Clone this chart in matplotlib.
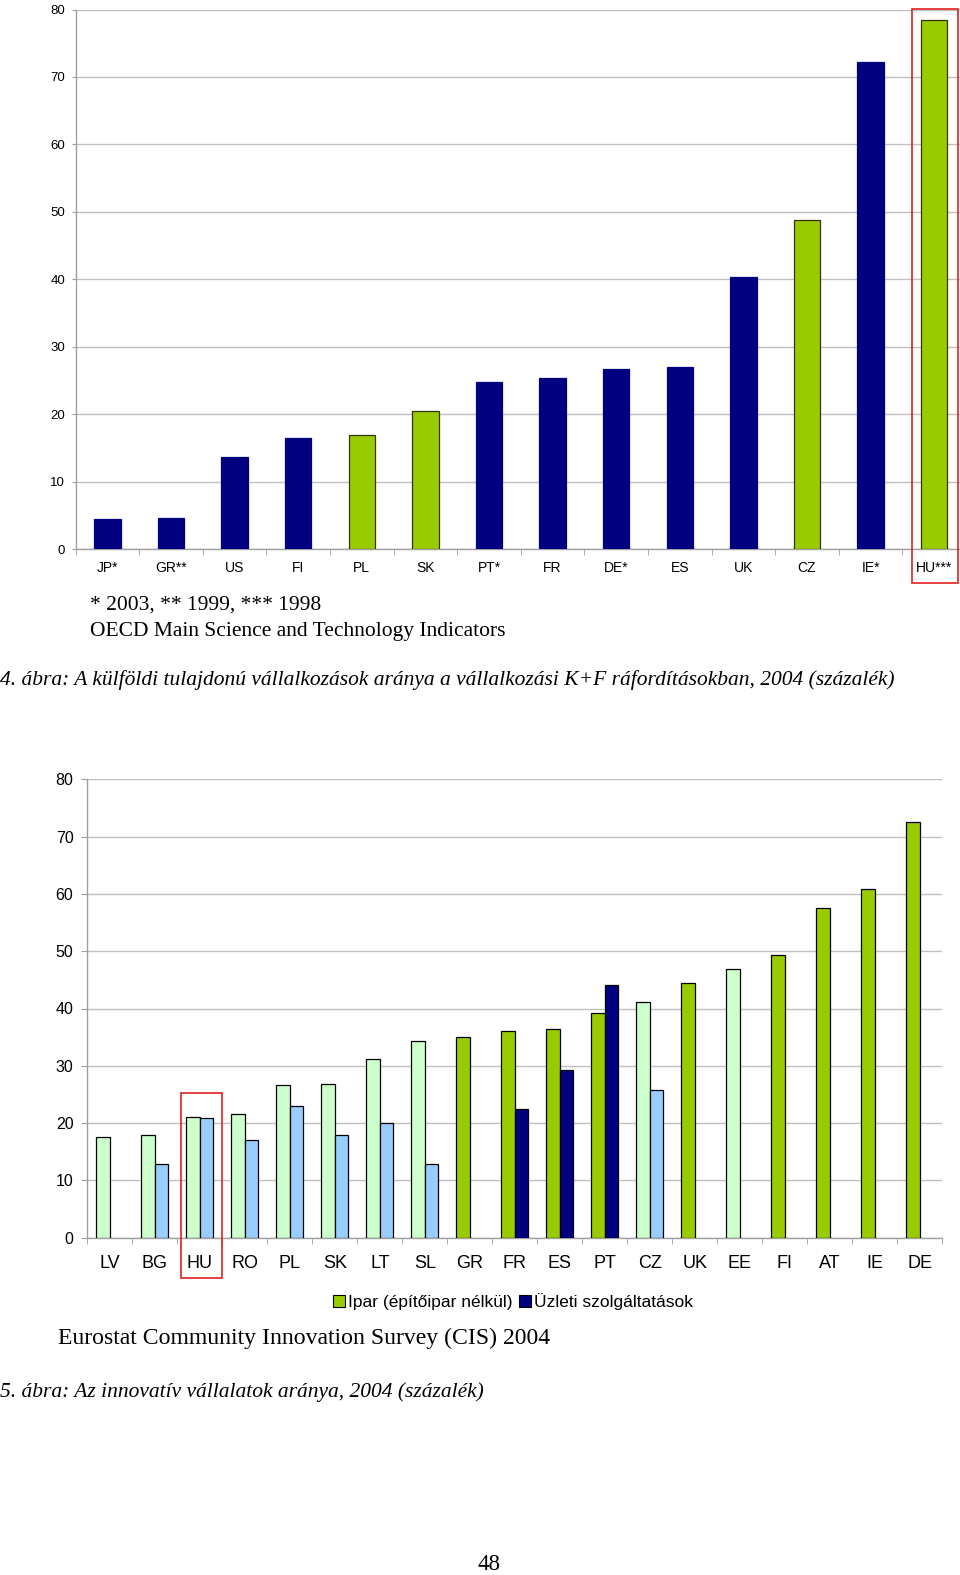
import numpy as np
import matplotlib
matplotlib.use("Agg")
import matplotlib.pyplot as plt
from matplotlib.patches import Rectangle, Patch

# ---------------- data ----------------
cats_top = ["JP*", "GR**", "US", "FI", "PL", "SK", "PT*", "FR", "DE*", "ES", "UK", "CZ", "IE*", "HU***"]
vals_top = [4.4, 4.6, 13.7, 16.5, 16.9, 20.5, 24.7, 25.4, 26.7, 27.0, 40.4, 48.8, 72.2, 78.5]
new_top = [0, 0, 0, 0, 1, 1, 0, 0, 0, 0, 0, 1, 0, 1]

cats_bot = ["LV", "BG", "HU", "RO", "PL", "SK", "LT", "SL", "GR", "FR", "ES", "PT", "CZ", "UK", "EE", "FI", "AT", "IE", "DE"]
ipar = [17.5, 18.0, 21.1, 21.6, 26.6, 26.9, 31.1, 34.3, 35.1, 36.1, 36.5, 39.2, 41.1, 44.4, 46.9, 49.3, 57.5, 60.9, 72.6]
uzleti = [np.nan, 12.9, 20.9, 17.1, 23.0, 18.0, 20.0, 12.9, np.nan, 22.5, 29.3, 44.1, 25.8, np.nan, np.nan, np.nan, np.nan, np.nan, np.nan]
new_bot = [1, 1, 1, 1, 1, 1, 1, 1, 0, 0, 0, 0, 1, 0, 1, 0, 0, 0, 0]
yticks = [0, 10, 20, 30, 40, 50, 60, 70, 80]

legend_labels = ["Ipar (építőipar nélkül)", "Üzleti szolgáltatások"]

NAVY = "#000080"
GREEN = "#99CC00"
LGREEN = "#CCFFCC"
LBLUE = "#99CCFF"
GRID = "#C0C0C0"
AXC = "#A0A0A0"
SANS = ["Liberation Sans", "DejaVu Sans"]
SERIF = ["Liberation Serif", "DejaVu Serif"]

W, H = 960, 1575
fig = plt.figure(figsize=(W / 100, H / 100), dpi=100)


def ax_rect(l, r, top, bot):
    return [l / W, 1 - bot / H, (r - l) / W, (bot - top) / H]


def style_axis(ax, n, ylab_size, ytick_len, ypad, xpad):
    ax.set_xlim(-0.5, n - 0.5)
    ax.set_ylim(0, 80)
    ax.set_yticks(yticks)
    ax.set_yticklabels([str(t) for t in yticks], family=SANS, fontsize=ylab_size)
    ax.yaxis.grid(True, color=GRID, lw=1.0)
    ax.set_axisbelow(True)
    for s in ["top", "right"]:
        ax.spines[s].set_visible(False)
    for s in ["left", "bottom"]:
        ax.spines[s].set_color(AXC)
        ax.spines[s].set_linewidth(1.0)
    ax.tick_params(axis="y", length=ytick_len, color=AXC, pad=ypad)
    ax.set_xticks(np.arange(n))
    ax.tick_params(axis="x", which="major", length=0, pad=xpad)
    ax.set_xticks(np.arange(n + 1) - 0.5, minor=True)
    ax.tick_params(axis="x", which="minor", length=4, color=AXC)


# ---------------- top chart ----------------
ax1 = fig.add_axes(ax_rect(75.5, 966, 9.5, 549))
x1 = np.arange(len(cats_top))
cols1 = [GREEN if f else NAVY for f in new_top]
edges1 = ["#333300" if f else NAVY for f in new_top]
ax1.bar(x1, vals_top, width=0.415, color=cols1, edgecolor=edges1, linewidth=0.9, zorder=3)
style_axis(ax1, len(cats_top), 9.5, 3, 4.5, 9)
ax1.set_xticklabels(cats_top, family=SANS, fontsize=10)
ax1.add_patch(Rectangle((12.65, -5.0), 0.73, 85.1, fill=False, edgecolor="#E02020",
                        lw=1.2, clip_on=False, transform=ax1.transData, zorder=5))

# ---------------- bottom chart ----------------
ax2 = fig.add_axes(ax_rect(87.3, 942.3, 779.3, 1237.7))
x2 = np.arange(len(cats_bot))
bw = 0.296
cols_a = [LGREEN if f else GREEN for f in new_bot]
cols_b = [LBLUE if f else NAVY for f in new_bot]
ax2.bar(x2 - bw / 2, ipar, width=bw, color=cols_a, edgecolor="black", linewidth=0.9, zorder=3)
ax2.bar(x2 + bw / 2, uzleti, width=bw, color=cols_b, edgecolor="black", linewidth=0.9, zorder=3)
style_axis(ax2, len(cats_bot), 11.5, 4, 6, 12.5)
ax2.set_xticklabels(cats_bot, family=SANS, fontsize=13)
ax2.add_patch(Rectangle((1.58, -7.0), 0.91, 32.2, fill=False, edgecolor="#E02020",
                        lw=1.2, clip_on=False, transform=ax2.transData, zorder=5))

handles = [Patch(facecolor=GREEN, edgecolor="black", lw=0.8),
           Patch(facecolor=NAVY, edgecolor="black", lw=0.8)]
fig.legend(handles, legend_labels, loc="center", bbox_to_anchor=(513 / W, 1 - 1302 / H),
           ncol=2, frameon=False, prop={"family": SANS, "size": 12.5},
           handlelength=0.7, handleheight=0.7, handletextpad=0.2, columnspacing=0.35)

# ---------------- texts ----------------
def ftext(x, y, s, **kw):
    fig.text(x / W, 1 - y / H, s, va="center", **kw)

ftext(90, 605, "* 2003, ** 1999, *** 1998", family=SERIF, fontsize=15.5)
ftext(90, 631, "OECD Main Science and Technology Indicators", family=SERIF, fontsize=15.5)
ftext(0, 680, "4. ábra: A külföldi tulajdonú vállalkozások aránya a vállalkozási K+F ráfordításokban, 2004 (százalék)",
      family=SERIF, style="italic", fontsize=15.5)
ftext(58, 1338, "Eurostat Community Innovation Survey (CIS) 2004", family=SERIF, fontsize=17.1)
ftext(0, 1392, "5. ábra: Az innovatív vállalatok aránya, 2004 (százalék)", family=SERIF, style="italic", fontsize=15.5)
ftext(489, 1565, "48", family=SERIF, fontsize=16.5, ha="center")

fig.savefig("out.png", dpi=100)
